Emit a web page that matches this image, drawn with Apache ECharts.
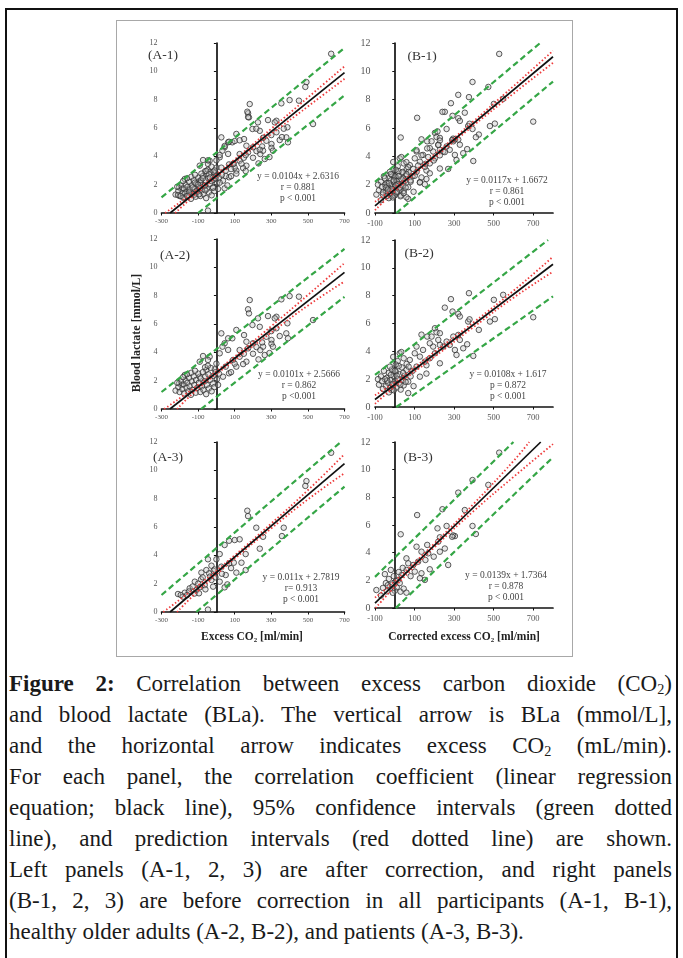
<!DOCTYPE html>
<html><head><meta charset="utf-8">
<script src="https://cdn.jsdelivr.net/npm/echarts@6/dist/echarts.min.js"></script>
<style>
html,body{margin:0;padding:0;background:#fff;}
body{width:683px;height:958px;position:relative;overflow:hidden;font-family:'Liberation Serif',serif;}
#frame{position:absolute;left:5px;top:8px;width:673px;height:1000px;border:2px solid #111;box-sizing:border-box;}
#box{position:absolute;left:116px;top:20px;width:457px;height:637px;border:1.5px solid #a8a8a8;box-sizing:border-box;}
#chart{position:absolute;left:0;top:0;width:683px;height:660px;}
#cap{position:absolute;left:9px;top:668px;width:663px;font-size:23px;line-height:31px;color:#1a1a1a;}
#cap div{text-align:justify;text-align-last:justify;white-space:nowrap;}
#cap div.last{text-align:left;text-align-last:left;}
#cap sub{font-size:0.62em;vertical-align:-0.22em;line-height:0;}
</style></head>
<body>
<div id="frame"></div>
<div id="box"></div>
<div id="chart"></div>
<div id="cap">
<div><b>Figure 2:</b> Correlation between excess carbon dioxide (CO<sub>2</sub>)</div>
<div>and blood lactate (BLa). The vertical arrow is BLa (mmol/L],</div>
<div>and the horizontal arrow indicates excess CO<sub>2</sub> (mL/min).</div>
<div>For each panel, the correlation coefficient (linear regression</div>
<div>equation; black line), 95% confidence intervals (green dotted</div>
<div>line), and prediction intervals (red dotted line) are shown.</div>
<div>Left panels (A-1, 2, 3) are after correction, and right panels</div>
<div>(B-1, 2, 3) are before correction in all participants (A-1, B-1),</div>
<div class="last">healthy older adults (A-2, B-2), and patients (A-3, B-3).</div>
</div>
<script>
// ---------- tick labels / axis ranges ----------
const xTicksA = [-300, -100, 100, 300, 500, 700];
const xTicksB = [-100, 100, 300, 500, 700];
const xMaxB = 800;
const yTicks = [0, 2, 4, 6, 8, 10, 12];

// ---------- text ----------
const panelLabels = ['(A-1)', '(A-2)', '(A-3)', '(B-1)', '(B-2)', '(B-3)'];
const statsA1 = ['y = 0.0104x + 2.6316', 'r = 0.881', 'p < 0.001'];
const statsA2 = ['y = 0.0101x + 2.5666', 'r = 0.862', 'p <0.001'];
const statsA3 = ['y = 0.011x + 2.7819', 'r= 0.913', 'p < 0.001'];
const statsB1 = ['y = 0.0117x + 1.6672', 'r = 0.861', 'p < 0.001'];
const statsB2 = ['y = 0.0108x + 1.617', 'p = 0.872', 'p < 0.001'];
const statsB3 = ['y = 0.0139x + 1.7364', 'r = 0.878', 'p < 0.001'];
const xTitleA = 'Excess CO₂ [ml/min]';
const xTitleB = 'Corrected excess CO₂ [ml/min]';
const yTitle = 'Blood lactate [mmol/L]';

// ---------- scatter points (excess CO2, blood lactate) ----------
// healthy older adults, after correction
const ptsA2 = [
[182,7.69],[173,7.04],[178,6.75],[355,7.74],[400,7.97],[451,7.93],[528,6.28],[388,6.05],[227,6.4],[282,6.56],[328,6.51],[319,6.4],
[27,5.34],[109,5.58],[87,4.99],[64,4.99],[151,5.22],[197,5.93],[237,5.8],[273,5.1],[301,4.87],[45,4.64],[33,4.4],[18,3.93],
[64,4.17],[127,4.16],[173,4.28],[219,4.37],[164,4.75],[200,4.64],[240,4.16],[264,3.81],[301,4.6],[127,3.69],[91,3.46],[164,3.34],
[51,2.99],[69,2.52],[36,2.28],[109,2.99],[146,3.17],[382,5.34],[391,4.99],[346,5.15],[309,4.4],[328,5.7],[300,5.5],[255,4.4],
[290,3.95],[230,3.5],[200,3.9],[150,3.9],[100,3.2],[80,2.6],[250,4.7],
[-37,3.69],[-73,3.74],[-46,3.46],[-91,3.34],[-137,2.56],[-173,2.4],[-204,1.81],[-191,1.69],[-91,2.28],[-55,2.75],[-9,2.8],[0,3.2],
[-223,1.3],[-208,1.55],[-201,1.2],[-193,1.95],[-186,1.4],[-178,1.75],[-176,1.1],[-168,2.0],[-163,1.5],[-158,1.85],[-153,1.25],[-149,2.2],
[-146,1.6],[-139,1.0],[-134,1.95],[-131,1.35],[-124,2.3],[-121,1.7],[-113,1.15],[-111,2.05],[-104,1.5],[-99,2.5],[-96,1.85],[-88,1.2],
[-86,2.15],[-79,1.6],[-74,2.6],[-71,1.35],[-64,1.95],[-61,2.3],[-56,1.05],[-52,1.7],[-44,2.45],[-41,1.45],[-33,2.05],[-31,2.9],
[-26,1.25],[-19,1.8],[-16,2.35],[-11,1.55],[-4,2.6],[3,2.1],[9,1.7],[14,2.5],[-62,2.95],[-117,2.7],[-161,2.45],[-182,2.25],[-214,1.85],[-47,3.05]
];
// patients, after correction
const ptsA3 = [
[627,11.24],[492,9.24],[486,8.9],[169,7.15],[173,6.77],[218,5.95],[368,5.95],[358,5.36],[255,5.31],[100,5.08],[127,5.13],[69,5.03],
[45,4.73],[237,4.47],[160,4.09],[18,4.09],[-46,3.72],[0,3.72],[95,3.48],[69,3.43],[137,3.48],[-27,3.27],[27,3.2],[-55,2.96],
[-15,2.9],[-82,2.78],[-40,2.73],[51,2.61],[109,2.78],[160,2.96],[-84,2.31],[-27,2.26],[18,2.14],[-118,2.14],[-64,1.9],[-18,1.79],
[45,1.74],[-146,1.67],[-109,1.55],[-95,1.32],[-173,1.36],[-210,1.27],[-182,1.08],[-46,0.17],
[-100,2.0],[-130,1.8],[-150,1.45],[-75,2.45],[-60,1.6],[-90,1.75],[-35,2.5],[-5,2.45],[-160,1.2],[-195,1.2],[-120,1.3],[30,2.7],
[-10,3.0],[60,1.95],[80,3.1]
];
const ptsA1 = ptsA2.concat(ptsA3);

// healthy older adults, before correction
const ptsB2 = [
[700,6.45],[548,8.06],[501,7.7],[375,8.18],[506,6.31],[481,6.14],[284,7.75],[253,7.14],[292,6.86],[321,6.69],[329,6.5],[371,6.14],
[378,6.3],[425,5.54],[397,3.67],[366,4.51],[203,5.66],[211,5.37],[164,5.06],[101,3.86],[76,3.38],[25,3.86],[33,3.95],[59,2.66],
[110,2.9],[160,3.0],[177,3.5],[127,2.18],[160,2.4],[68,1.82],[-17,1.22],[68,1.0],
[321,5.18],[296,5.06],[304,4.1],[278,4.46],[262,4.7],[245,4.34],[228,4.46],[220,4.82],[329,4.82],[346,4.22],[312,3.74],[194,4.34],
[177,4.58],[143,4.1],[127,3.62],[110,4.34],[152,3.26],[203,3.86],[228,3.14],[135,5.2],[186,5.06],[228,5.3],
[-45,1.5],[-40,2.1],[-35,1.75],[-30,2.45],[-25,1.35],[-20,1.95],[-15,2.7],[-10,1.55],[-5,2.2],[0,1.85],[5,2.55],[10,1.4],
[15,2.0],[20,1.7],[25,2.35],[30,1.25],[35,2.85],[40,1.95],[45,1.55],[50,2.25],[-30,1.05],[-5,1.2],[20,2.95],[-20,2.3],
[10,2.25],[55,1.8],[0,2.6],[-38,1.9],[28,1.6],[42,2.45],[-12,1.65],[-50,2.0],[-25,2.9],[60,3.1],[15,3.3],[-8,3.6],
[5,3.05],[45,3.5],[80,2.2],[90,2.6],[95,1.5],[70,2.9],[-80,1.6],[-70,2.2],[-60,1.3],[-85,2.0],[-65,1.85],[-55,2.6]
];
// patients, before correction
const ptsB3 = [
[528,11.23],[473,8.9],[393,9.25],[321,8.34],[354,7.08],[241,7.14],[113,6.72],[393,5.93],[410,5.35],[262,5.93],[216,5.76],[304,5.2],
[295,5.25],[290,5.15],[228,5.11],[220,4.8],[164,4.56],[110,4.43],[30,5.33],[135,4.07],[169,3.95],[197,3.71],[228,4.07],[270,3.11],
[253,4.3],[155,3.47],[118,3.35],[177,2.8],[59,3.59],[68,3.23],[93,3.11],[59,2.75],[101,2.63],[135,2.51],[127,2.15],[152,2.03],
[34,2.39],[17,2.03],[-25,1.54],[0,1.25],[59,1.11],[-93,1.3],[29,1.18],
[-60,1.45],[-45,1.8],[-30,2.1],[-15,1.7],[-5,2.3],[10,1.5],[20,2.6],[-40,1.2],[-70,0.9],[-50,2.45],[5,1.95],[25,1.8],
[-20,2.75],[40,2.9],[-10,1.1],[45,1.4],[80,2.3],[-35,1.65]
];
const ptsB1 = ptsB2.concat(ptsB3);

// ---------- regression line (black), 95% bands (green dashed), red dotted band ----------
const fitA1 = [[-253,0],[700,9.91]];
const grnUpA1 = [[-300,1.1],[700,11.65]];
const grnLoA1 = [[-100,0],[700,8.3]];
const redUpA1 = [[-280,0],[-100,1.72],[100,3.78],[300,5.95],[500,8.15],[700,10.35]];
const redLoA1 = [[-225,0],[-100,1.47],[100,3.56],[300,5.57],[500,7.52],[700,9.47]];

const fitA2 = [[-254,0],[700,9.64]];
const grnUpA2 = [[-300,1.2],[700,11.3]];
const grnLoA2 = [[-84,0],[700,7.92]];
const redUpA2 = [[-285,0],[-100,1.7],[100,3.7],[300,5.85],[500,8.05],[700,10.3]];
const redLoA2 = [[-215,0],[-100,1.42],[100,3.45],[300,5.4],[500,7.3],[700,9.0]];

const fitA3 = [[-253,0],[700,10.48]];
const grnUpA3 = [[-300,1.2],[680,12]];
const grnLoA3 = [[-110,0],[700,8.85]];
const redUpA3 = [[-290,0],[-100,1.88],[100,4.0],[300,6.25],[500,8.6],[700,11.15]];
const redLoA3 = [[-215,0],[-100,1.48],[100,3.76],[300,5.9],[500,7.95],[700,9.8]];

const fitB1 = [[-100,0.5],[800,11.03]];
const grnUpB1 = [[-100,2.2],[735,12]];
const grnLoB1 = [[8,0],[800,9.28]];
const redUpB1 = [[-100,0.8],[0,1.82],[200,4.12],[400,6.5],[600,8.95],[800,11.45]];
const redLoB1 = [[-100,0.2],[0,1.52],[200,3.88],[400,6.2],[600,8.43],[800,10.6]];

const fitB2 = [[-100,0.54],[800,10.26]];
const grnUpB2 = [[-100,2.3],[775,12]];
const grnLoB2 = [[8,0],[800,7.95]];
const redUpB2 = [[-100,0.85],[0,1.78],[200,3.95],[400,6.1],[600,8.35],[800,10.8]];
const redLoB2 = [[-100,0.22],[0,1.45],[200,3.6],[400,5.76],[600,7.85],[800,9.72]];

const fitB3 = [[-100,0.35],[738,12]];
const grnUpB3 = [[-100,2.25],[600,12]];
const grnLoB3 = [[5,0],[800,10.9]];
const redUpB3 = [[-100,0.75],[0,1.95],[200,4.66],[400,7.55],[600,10.62],[680,12]];
const redLoB3 = [[-97,0],[0,1.53],[200,4.38],[400,7.02],[600,9.47],[800,11.85]];

// ---------- layout ----------
const FONT = "'Liberation Serif', 'Times New Roman', serif";
const panels = [
  {grid:{left:161.5, top:43, width:183, height:170}, kind:'A', pts:ptsA1, fit:fitA1, gu:grnUpA1, gl:grnLoA1, ru:redUpA1, rl:redLoA1, stats:statsA1, sx:298, sy:177, label:panelLabels[0], lx:163, ly:55},
  {grid:{left:161.5, top:239, width:183, height:170}, kind:'A', pts:ptsA2, fit:fitA2, gu:grnUpA2, gl:grnLoA2, ru:redUpA2, rl:redLoA2, stats:statsA2, sx:299, sy:375, label:panelLabels[1], lx:175, ly:255},
  {grid:{left:161.5, top:442, width:183, height:170}, kind:'A', pts:ptsA3, fit:fitA3, gu:grnUpA3, gl:grnLoA3, ru:redUpA3, rl:redLoA3, stats:statsA3, sx:301, sy:578, label:panelLabels[2], lx:168, ly:457},
  {grid:{left:375, top:43, width:178, height:170}, kind:'B', pts:ptsB1, fit:fitB1, gu:grnUpB1, gl:grnLoB1, ru:redUpB1, rl:redLoB1, stats:statsB1, sx:507, sy:181, label:panelLabels[3], lx:422, ly:56},
  {grid:{left:375, top:240, width:178, height:167}, kind:'B', pts:ptsB2, fit:fitB2, gu:grnUpB2, gl:grnLoB2, ru:redUpB2, rl:redLoB2, stats:statsB2, sx:508, sy:375, label:panelLabels[4], lx:419, ly:253},
  {grid:{left:375, top:442, width:178, height:166}, kind:'B', pts:ptsB3, fit:fitB3, gu:grnUpB3, gl:grnLoB3, ru:redUpB3, rl:redLoB3, stats:statsB3, sx:506, sy:576, label:panelLabels[5], lx:418, ly:457}
];

const grids = [], xAxes = [], yAxes = [], series = [], graphics = [];
const axisLineStyle = {color:'#111', width:1.7};
panels.forEach((p, i) => {
  grids.push(Object.assign({outerBoundsMode:'none', containLabel:false}, p.grid));
  const isA = p.kind === 'A';
  const ticks = isA ? xTicksA : xTicksB;
  xAxes.push({
    type:'value', gridIndex:i,
    min: ticks[0], max: isA ? ticks[ticks.length-1] : xMaxB, interval: ticks[1]-ticks[0],
    axisLine:{show:true, onZero:true, lineStyle:axisLineStyle},
    axisTick:{show:true, length:2.5, lineStyle:{color:'#111', width:1}},
    axisLabel:{fontSize: isA ? 7 : 8.5, color:'#555', fontFamily:FONT, margin: isA ? 4.5 : 6, showMaxLabel: isA ? true : false},
    splitLine:{show:false}
  });
  yAxes.push({
    type:'value', gridIndex:i, min:yTicks[0], max:yTicks[yTicks.length-1], interval:yTicks[1]-yTicks[0],
    axisLine:{show:true, onZero:true, lineStyle:axisLineStyle},
    axisTick:{show:true, length:2.5, lineStyle:{color:'#111', width:1}},
    axisLabel:{fontSize: isA ? 8 : 10, color:'#555', fontFamily:FONT, margin: isA ? 4 : 4.5},
    splitLine:{show:false}
  });
  series.push({type:'scatter', xAxisIndex:i, yAxisIndex:i, data:p.pts, symbol:'circle', symbolSize:5.5,
    itemStyle:{color:'rgba(190,190,190,0.45)', borderColor:'#333', borderWidth:1}, z:2, silent:true});
  series.push({type:'line', xAxisIndex:i, yAxisIndex:i, data:p.ru, smooth:true, symbol:'none',
    lineStyle:{color:'#ee3b3b', width:1.8, type:[1.5,2.2]}, z:3, silent:true});
  series.push({type:'line', xAxisIndex:i, yAxisIndex:i, data:p.rl, smooth:true, symbol:'none',
    lineStyle:{color:'#ee3b3b', width:1.8, type:[1.5,2.2]}, z:3, silent:true});
  series.push({type:'line', xAxisIndex:i, yAxisIndex:i, data:p.gu, symbol:'none',
    lineStyle:{color:'#35a646', width:2.2, type:[6,3.5]}, z:4, silent:true});
  series.push({type:'line', xAxisIndex:i, yAxisIndex:i, data:p.gl, symbol:'none',
    lineStyle:{color:'#35a646', width:2.2, type:[6,3.5]}, z:4, silent:true});
  series.push({type:'line', xAxisIndex:i, yAxisIndex:i, data:p.fit, symbol:'none',
    lineStyle:{color:'#111', width:1.7}, z:5, silent:true});
  graphics.push({type:'text', x:p.lx, y:p.ly, z:10, style:{text:p.label, fontSize:13.5, fontFamily:FONT, fill:'#333', align:'center', verticalAlign:'middle'}});
  graphics.push({type:'text', x:p.sx, y:p.sy - 5.5, z:10, style:{text:p.stats.join('\n'), fontSize:9.5, lineHeight:10.8, fontFamily:FONT, fill:'#444', align:'center', verticalAlign:'top'}});
});
graphics.push({type:'text', x:252, y:637, style:{text:xTitleA, fontSize:11.5, fontWeight:'bold', fontFamily:FONT, fill:'#222', align:'center', verticalAlign:'middle'}});
graphics.push({type:'text', x:464, y:637, style:{text:xTitleB, fontSize:11.5, fontWeight:'bold', fontFamily:FONT, fill:'#222', align:'center', verticalAlign:'middle'}});
graphics.push({type:'text', x:137, y:333, rotation:Math.PI/2, style:{text:yTitle, fontSize:12, fontWeight:'bold', fontFamily:FONT, fill:'#222', align:'center', verticalAlign:'middle'}});

const chart = echarts.init(document.getElementById('chart'), null, {renderer:'canvas'});
chart.setOption({
  animation:false,
  grid:grids, xAxis:xAxes, yAxis:yAxes, series:series, graphic:graphics
});
</script>
</body></html>
